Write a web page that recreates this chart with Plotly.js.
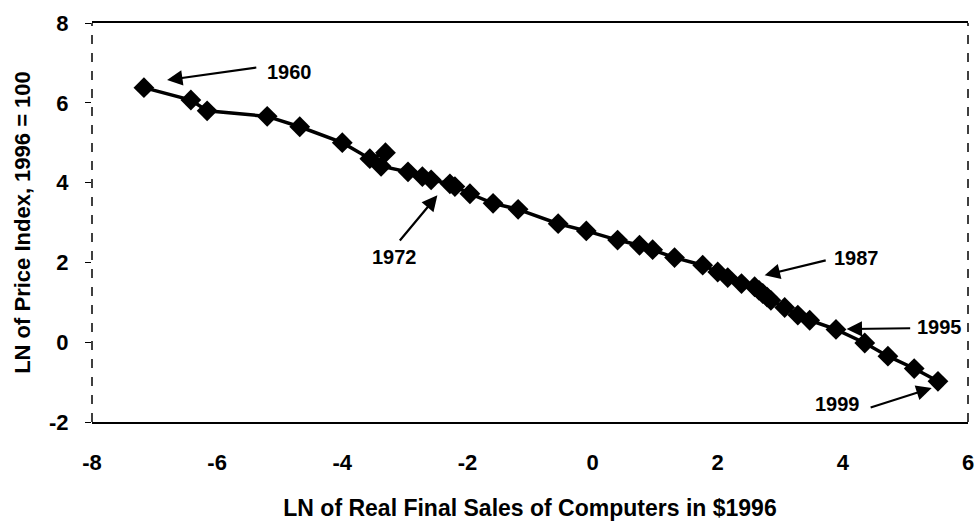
<!DOCTYPE html>
<html>
<head>
<meta charset="utf-8">
<script src="https://cdn.plot.ly/plotly-3.0.1.min.js"></script>
<style>
  body { margin: 0; background: #fff; }
  #chart { width: 976px; height: 521px; }
</style>
</head>
<body>
<div id="chart"></div>
<script>
// LN of real final sales vs LN of price index, 1960-1999
const years = [];
for (let y = 1960; y <= 1999; y++) years.push(y);

const lnSales = [
    -7.17, -6.42, -6.16, -5.20, -4.68, -4.00, -3.56, -3.31, -3.38, -2.95,
    -2.72, -2.58, -2.28, -2.20, -1.96, -1.59, -1.19, -0.55, -0.10, 0.40,
    0.75, 0.96, 1.31, 1.76, 2.00, 2.16, 2.38, 2.59, 2.66, 2.72,
    2.79, 2.85, 3.07, 3.28, 3.47, 3.89, 4.35, 4.72, 5.14, 5.52
];
const lnPrice = [
    6.38, 6.07, 5.80, 5.66, 5.40, 5.00, 4.60, 4.75, 4.41, 4.27,
    4.15, 4.07, 3.97, 3.90, 3.72, 3.48, 3.33, 2.97, 2.79, 2.56,
    2.43, 2.32, 2.12, 1.93, 1.76, 1.62, 1.47, 1.39, 1.30, 1.22,
    1.13, 1.05, 0.87, 0.68, 0.55, 0.32, -0.02, -0.35, -0.66, -0.98
];

// tick labels (plain hyphen, as in the original)
const xTicks = [-8, -6, -4, -2, 0, 2, 4, 6];
const xTickText = ['-8', '-6', '-4', '-2', '0', '2', '4', '6'];
const yTicks = [-2, 0, 2, 4, 6, 8];
const yTickText = ['-2', '0', '2', '4', '6', '8'];

// year labels: text position, arrow tail, arrow head
const labelText = ['1960', '1972', '1987', '1995', '1999'];
const labelX = [-4.84, -3.16, 4.22, 5.54, 3.91];
const labelY = [6.77, 2.13, 2.11, 0.38, -1.55];
const tailX = [-5.35, -3.10, 3.75, 5.10, 4.42];
const tailY = [6.89, 2.51, 2.06, 0.35, -1.65];
const headX = [-6.80, -2.48, 2.75, 4.06, 5.42];
const headY = [6.57, 3.68, 1.68, 0.33, -1.15];

const font = 'Liberation Sans, Arial, sans-serif';

const trace = {
    x: lnSales,
    y: lnPrice,
    text: years,
    mode: 'lines+markers',
    type: 'scatter',
    line: { color: '#000', width: 3.5 },
    marker: { symbol: 'diamond', size: 16, color: '#000' },
};

const annotations = [];
labelText.forEach(function (t, i) {
    annotations.push({
        x: labelX[i], y: labelY[i], xref: 'x', yref: 'y',
        text: '<b>' + t + '</b>', showarrow: false,
        font: { family: font, size: 20, color: '#000' },
    });
    annotations.push({
        x: headX[i], y: headY[i], xref: 'x', yref: 'y',
        ax: tailX[i], ay: tailY[i], axref: 'x', ayref: 'y',
        text: '', showarrow: true,
        arrowhead: 2, arrowsize: 1.4, arrowwidth: 2.2, arrowcolor: '#000',
        standoff: 0, startstandoff: 0,
    });
});

const layout = {
    width: 976,
    height: 521,
    margin: { l: 92, r: 8, t: 23, b: 99 },
    paper_bgcolor: '#fff',
    plot_bgcolor: '#fff',
    showlegend: false,
    font: { family: font, color: '#000' },
    xaxis: {
        range: [-8, 6],
        tickmode: 'array',
        tickvals: xTicks,
        ticktext: xTickText,
        showgrid: false,
        zeroline: false,
        showline: true,
        mirror: true,
        linecolor: '#000',
        linewidth: 2,
        ticks: '',
        ticklabelstandoff: 20,
        tickfont: { family: font, size: 22, weight: 'bold' },
        title: {
            text: '<b>LN of Real Final Sales of Computers in $1996</b>',
            font: { family: font, size: 23 },
            standoff: 27,
        },
    },
    yaxis: {
        range: [-2, 8],
        tickmode: 'array',
        tickvals: yTicks,
        ticktext: yTickText,
        showgrid: false,
        zeroline: false,
        showline: false,
        ticks: 'outside',
        ticklen: 6,
        tickcolor: '#000',
        tickwidth: 1,
        ticklabelstandoff: 12,
        tickfont: { family: font, size: 22, weight: 'bold' },
        title: {
            text: '<b>LN of Price Index, 1996 = 100</b>',
            font: { family: font, size: 22 },
            standoff: 12,
        },
    },
    shapes: [
        { type: 'line', xref: 'paper', yref: 'paper', x0: 0, x1: 0, y0: 0, y1: 1,
          line: { color: '#000', width: 1.5, dash: 'dash' } },
        { type: 'line', xref: 'paper', yref: 'paper', x0: 1, x1: 1, y0: 0, y1: 1,
          line: { color: '#000', width: 1.5, dash: 'dash' } },
    ],
    annotations: annotations,
};

Plotly.newPlot('chart', [trace], layout, { displayModeBar: false, staticPlot: true });
</script>
</body>
</html>
